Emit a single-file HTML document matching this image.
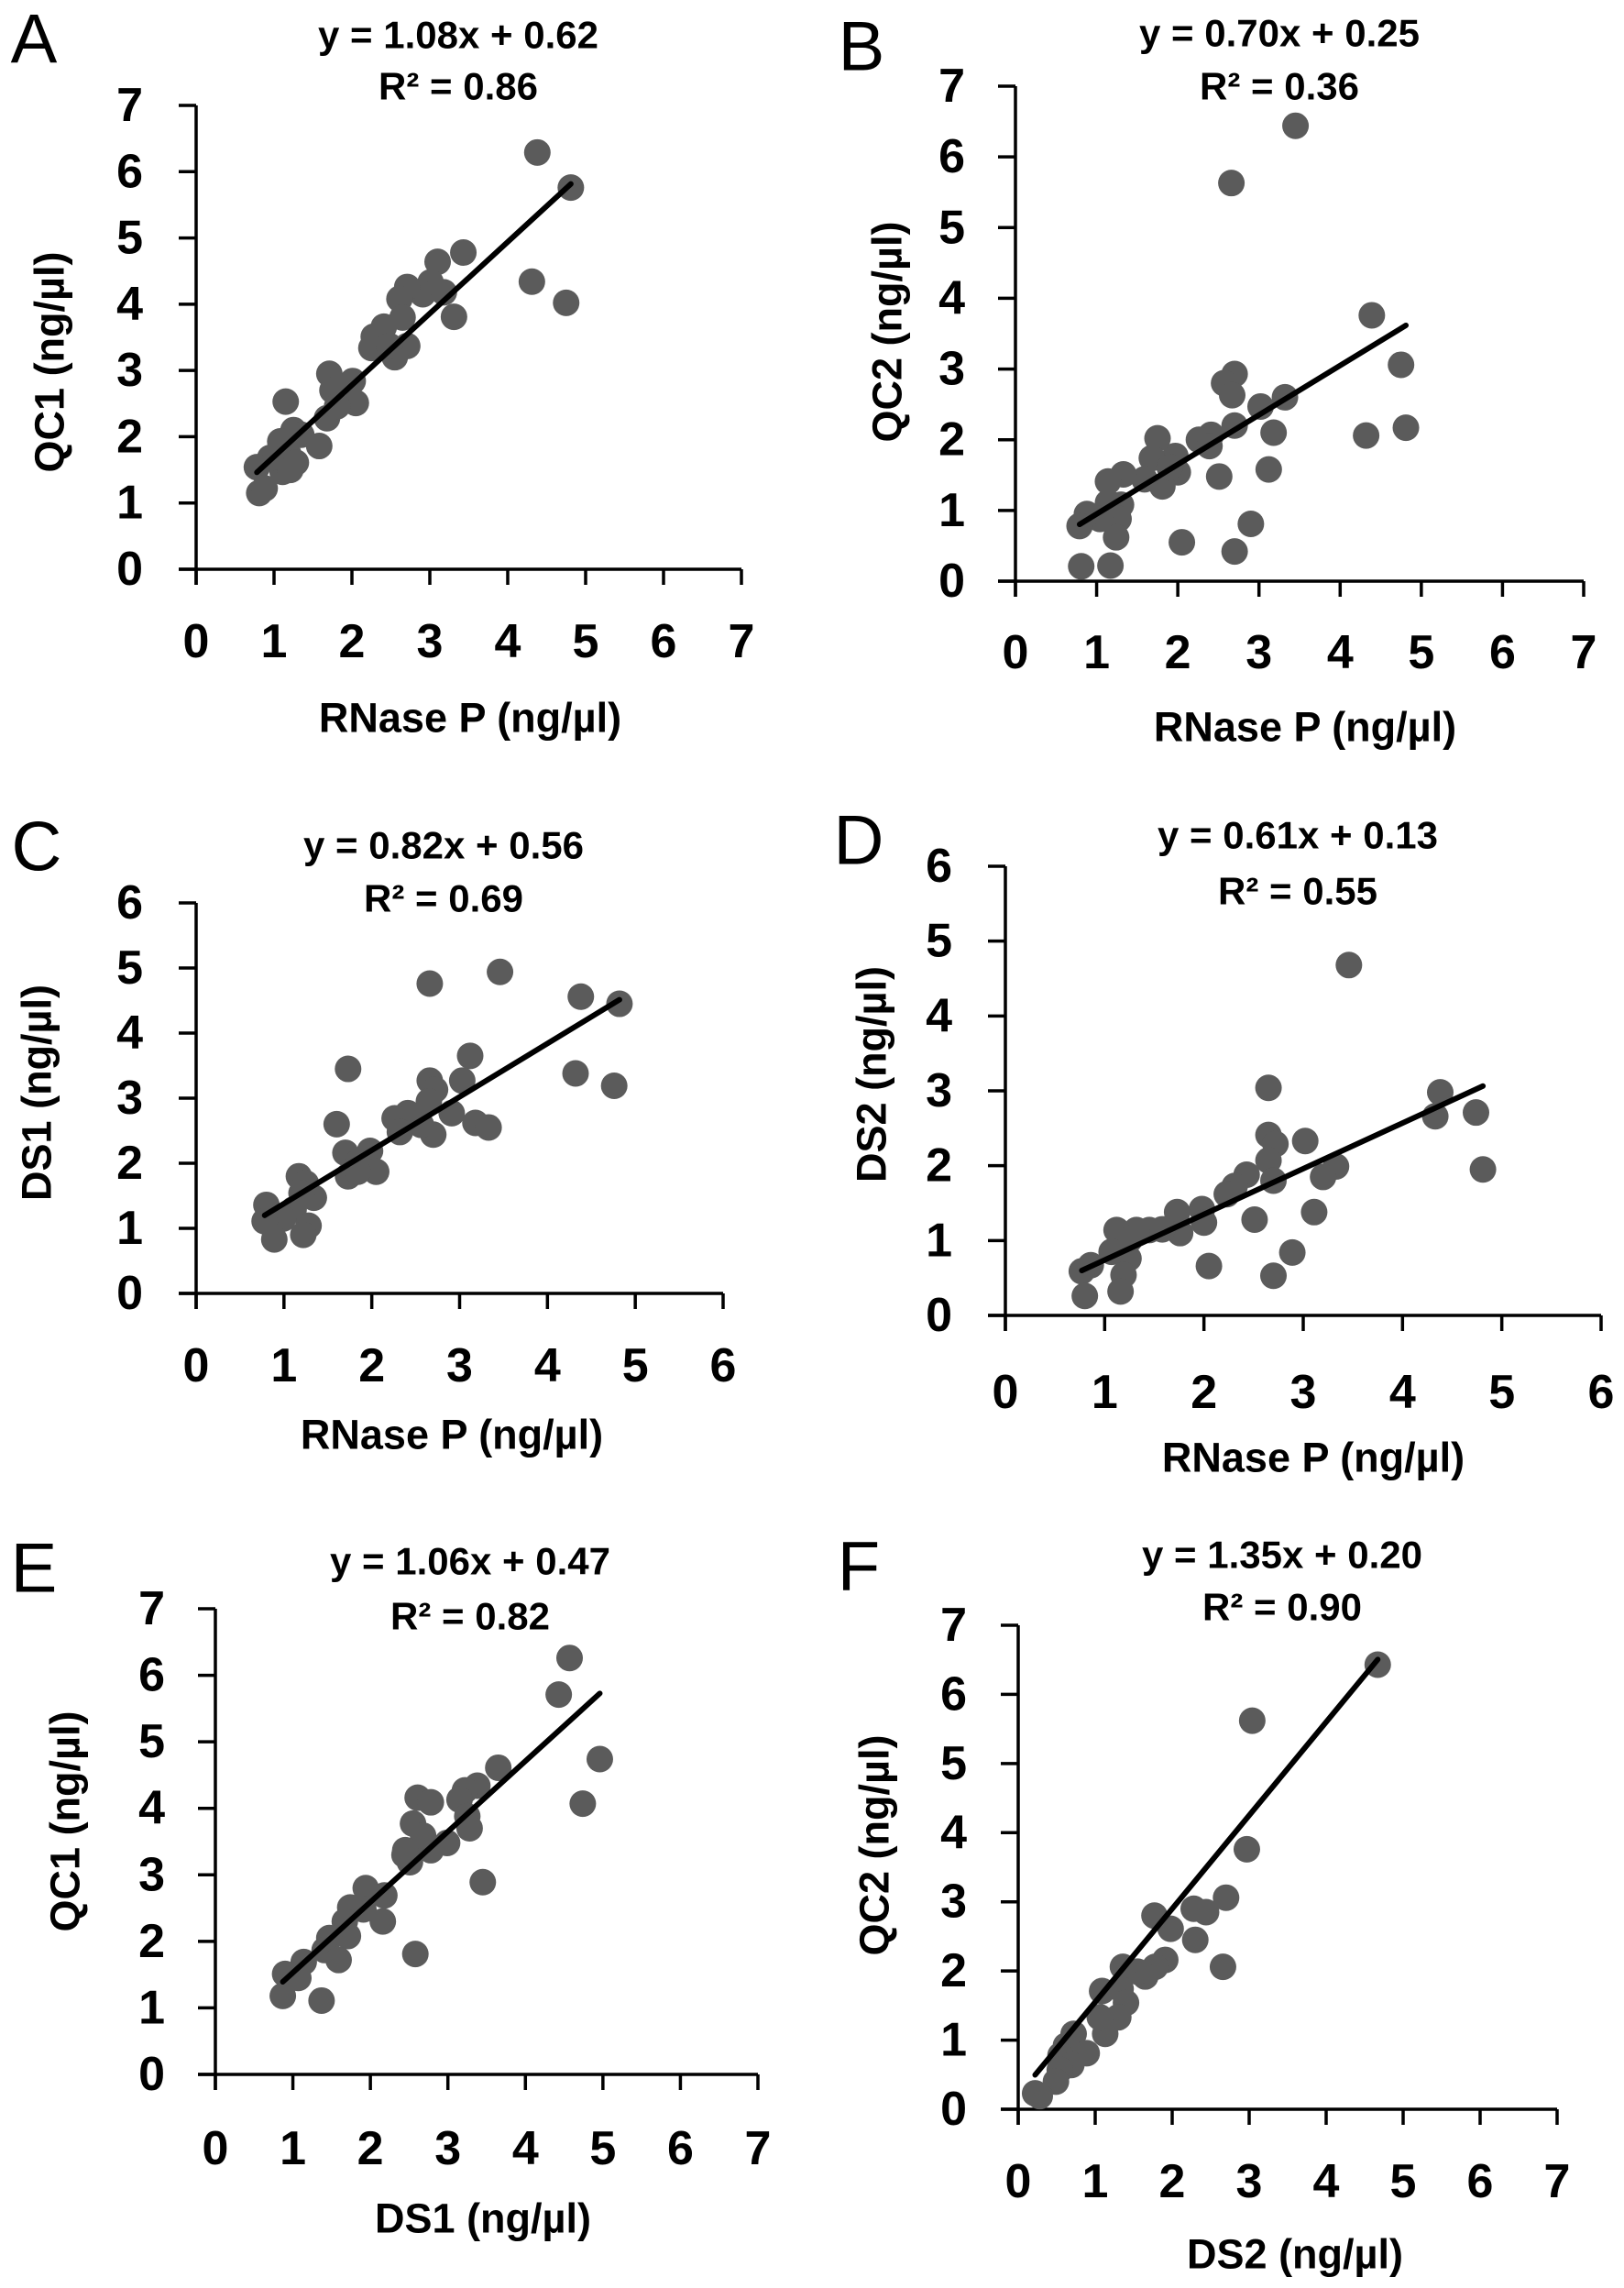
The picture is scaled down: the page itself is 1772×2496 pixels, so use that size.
<!DOCTYPE html>
<html><head><meta charset="utf-8"><style>
html,body{margin:0;padding:0;background:#fff;}
svg{display:block;}
text{font-family:"Liberation Sans",Arial,sans-serif;fill:#000;}
</style></head>
<body>
<svg id="fig" width="1772" height="2496" viewBox="0 0 1772 2496" xmlns="http://www.w3.org/2000/svg"></svg>
<script>
// ---- Panel data ----
const aX=[4.38,4.81,4.31,4.75,3.43,3.1,3.31,3.01,2.91,2.71,2.61,3.18,2.65,2.71,2.55,2.28,2.41,2.25,2.48,2.01,2.05,1.71,1.75,1.68,1.81,1.15,1.25,1.35,1.58,1.08,1.18,1.28,1.11,0.95,0.78,0.81,0.88,1.21];
const aY=[6.29,5.76,4.34,4.02,4.78,4.64,3.81,4.33,4.15,4.26,4.08,4.18,3.8,3.37,3.2,3.51,3.66,3.34,3.37,2.84,2.51,2.95,2.7,2.28,2.46,2.53,2.1,2.03,1.86,1.93,1.75,1.61,1.47,1.68,1.54,1.15,1.22,1.5];
const bX=[3.45,2.66,4.39,4.75,4.81,4.32,3.32,3.02,3.18,3.12,2.9,2.7,2.7,2.57,2.67,2.7,2.51,2.41,2.26,2.39,2.05,1.97,2.0,1.75,1.68,1.81,1.59,1.9,1.33,1.14,1.3,1.14,1.27,1.24,1.04,0.88,0.79,0.81,1.17];
const bY=[6.44,5.63,3.76,3.06,2.17,2.06,2.6,2.47,2.1,1.58,0.81,0.42,2.93,2.8,2.63,2.2,1.48,2.07,2.0,1.91,0.55,1.77,1.54,2.02,1.74,1.34,1.44,1.61,1.51,1.41,1.08,1.11,0.88,0.62,0.88,0.95,0.78,0.21,0.22];
const cX=[3.46,2.66,4.38,4.82,4.32,4.76,3.12,3.03,1.73,1.6,2.66,2.72,2.65,2.91,3.18,3.33,2.7,2.56,2.41,2.26,2.32,1.7,1.98,1.84,2.05,1.73,1.84,1.17,1.25,1.34,1.2,1.11,1.28,1.22,0.99,0.8,0.78,0.89];
const cY=[4.94,4.76,4.56,4.45,3.38,3.19,3.65,3.27,3.45,2.6,3.27,3.13,2.95,2.77,2.62,2.55,2.44,2.59,2.77,2.69,2.48,2.16,2.19,2.01,1.87,1.8,1.87,1.8,1.69,1.47,1.54,1.29,1.04,0.9,1.15,1.36,1.11,0.83];
const dX=[3.46,2.65,4.38,4.33,4.74,4.81,3.02,2.65,2.72,2.65,2.7,3.33,3.2,3.11,2.43,2.31,2.23,2.51,2.89,2.7,2.05,1.98,2.0,1.73,1.76,1.58,1.45,1.32,1.12,1.25,1.24,1.07,1.19,1.16,0.86,0.77,0.8];
const dY=[4.68,3.04,2.98,2.66,2.71,1.95,2.33,2.41,2.29,2.07,1.8,1.99,1.85,1.38,1.88,1.73,1.62,1.28,0.84,0.53,0.66,1.42,1.24,1.38,1.1,1.15,1.14,1.14,1.14,1.01,0.76,0.85,0.54,0.32,0.67,0.59,0.26];
const eX=[4.57,4.43,4.96,4.74,3.65,3.45,2.58,3.38,3.22,3.15,3.25,3.28,2.99,2.78,2.61,2.78,2.55,2.68,2.45,2.51,2.44,2.18,2.16,1.94,1.91,1.74,1.67,1.71,1.47,1.41,1.59,1.37,1.14,1.07,0.9,0.87];
const eY=[6.26,5.71,4.74,4.07,4.61,2.89,1.81,4.34,4.27,4.13,3.88,3.7,3.48,3.37,4.16,4.09,3.77,3.59,3.37,3.19,3.3,2.69,2.3,2.8,2.48,2.51,2.3,2.08,2.05,1.87,1.72,1.11,1.69,1.45,1.51,1.18];
const fX=[4.67,3.04,2.97,2.7,2.28,2.44,2.3,2.66,1.77,1.98,1.91,1.78,1.65,1.55,1.36,1.09,1.33,1.4,1.3,1.13,1.06,0.72,0.89,0.62,0.55,0.69,0.54,0.49,0.28,0.22];
const fY=[6.43,5.62,3.76,3.06,2.9,2.85,2.45,2.06,2.8,2.61,2.16,2.06,1.92,1.99,2.06,1.71,1.74,1.54,1.33,1.09,1.33,1.09,0.81,0.92,0.78,0.64,0.57,0.4,0.19,0.23];
const slopes=[1.08,0.70,0.82,0.61,1.06,1.35];
const intercepts=[0.62,0.25,0.56,0.13,0.47,0.20];
const r2=["0.86","0.36","0.69","0.55","0.82","0.90"];
const xTicks7=[0,1,2,3,4,5,6,7];
const xTicks6=[0,1,2,3,4,5,6];
const yTicks7=[0,1,2,3,4,5,6,7];
const yTicks6=[0,1,2,3,4,5,6];
const panelLetters=["A","B","C","D","E","F"];
const xTitles=["RNase P (ng/µl)","RNase P (ng/µl)","RNase P (ng/µl)","RNase P (ng/µl)","DS1 (ng/µl)","DS2 (ng/µl)"];
const yTitles=["QC1 (ng/µl)","QC2 (ng/µl)","DS1 (ng/µl)","DS2 (ng/µl)","QC1 (ng/µl)","QC2 (ng/µl)"];

// ---- Layout (pixels) ----
const layout=[
 {ox:214,xe:809,oy:621,ye:115,xt:xTicks7,yt:yTicks7,tcx:500,t1:38,t2:94,lx:37,ly:43,xl:700,xtc:513,xty:783,ylr:156,ytx:54,yty:395,xs:aX,ys:aY},
 {ox:1108,xe:1728,oy:634,ye:94,xt:xTicks7,yt:yTicks7,tcx:1396,t1:36,t2:94,lx:940,ly:51,xl:712,xtc:1424,xty:793,ylr:1053,ytx:968,yty:362,xs:bX,ys:bY},
 {ox:214,xe:789,oy:1411,ye:985,xt:xTicks6,yt:yTicks6,tcx:484,t1:922,t2:980,lx:40,ly:924,xl:1490,xtc:493,xty:1565,ylr:156,ytx:40,yty:1192,xs:cX,ys:cY},
 {ox:1097,xe:1747,oy:1435,ye:945,xt:xTicks6,yt:yTicks6,tcx:1416,t1:911,t2:972,lx:937,ly:917,xl:1519,xtc:1433,xty:1590,ylr:1039,ytx:951,yty:1172,xs:dX,ys:dY},
 {ox:235,xe:827,oy:2263,ye:1755,xt:xTicks7,yt:yTicks7,tcx:513,t1:1703,t2:1763,lx:37,ly:1711,xl:2344,xtc:527,xty:2420,ylr:180,ytx:71,yty:1987,xs:eX,ys:eY},
 {ox:1111,xe:1699,oy:2301,ye:1773,xt:xTicks7,yt:yTicks7,tcx:1399,t1:1696,t2:1753,lx:937,ly:1709,xl:2380,xtc:1413,xty:2459,ylr:1055,ytx:954,yty:2013,xs:fX,ys:fY}
];

const NS="http://www.w3.org/2000/svg";
const svg=document.getElementById('fig');
function mk(tag,attrs,parent,txt){const e=document.createElementNS(NS,tag);for(const k in attrs)e.setAttribute(k,attrs[k]);if(txt!==undefined)e.textContent=txt;parent.appendChild(e);return e;}

layout.forEach((L,i)=>{
  const xmax=L.xt[L.xt.length-1], ymax=L.yt[L.yt.length-1];
  const sx=v=>L.ox+(L.xe-L.ox)*v/xmax;
  const sy=v=>L.oy-(L.oy-L.ye)*v/ymax;
  const g=mk('g',{},svg);
  
  

  const letter=mk('text',{x:L.lx,y:L.ly,'font-size':76,'text-anchor':'middle','dominant-baseline':'central'},g,panelLetters[i]);
  
  

  const eq=mk('text',{x:L.tcx,y:L.t1,'font-size':42,'font-weight':'bold','text-anchor':'middle','dominant-baseline':'central'},g,
    'y = '+slopes[i].toFixed(2)+'x + '+intercepts[i].toFixed(2));
  
  
  const rr=mk('text',{x:L.tcx,y:L.t2,'font-size':42,'font-weight':'bold','text-anchor':'middle','dominant-baseline':'central'},g,'R² = '+r2[i]);
  
  

  // axes
  const xa=mk('line',{x1:L.ox-19,y1:L.oy,x2:L.xe,y2:L.oy,stroke:'#000','stroke-width':3.5},g);
  
  
  const ya=mk('line',{x1:L.ox,y1:L.oy+17,x2:L.ox,y2:L.ye,stroke:'#000','stroke-width':3.5},g);
  
  

  L.xt.forEach(t=>{
    const tk=mk('line',{x1:sx(t),y1:L.oy,x2:sx(t),y2:L.oy+17,stroke:'#000','stroke-width':3.5},g);
    
    
    const tl=mk('text',{x:sx(t),y:L.xl,'font-size':52,'font-weight':'bold','text-anchor':'middle','dominant-baseline':'central'},g,String(t));
    
    
  });
  L.yt.forEach(t=>{
    const tk=mk('line',{x1:L.ox-19,y1:sy(t),x2:L.ox,y2:sy(t),stroke:'#000','stroke-width':3.5},g);
    
    
    const tl=mk('text',{x:L.ylr,y:sy(t),'font-size':52,'font-weight':'bold','text-anchor':'end','dominant-baseline':'central'},g,String(t));
    
    
  });

  const xt=mk('text',{x:L.xtc,y:L.xty,'font-size':45,'font-weight':'bold','text-anchor':'middle','dominant-baseline':'central'},g,xTitles[i]);
  
  
  const yt=mk('text',{x:L.ytx,y:L.yty,'font-size':45,'font-weight':'bold','text-anchor':'middle','dominant-baseline':'central',transform:`rotate(-90 ${L.ytx} ${L.yty})`},g,yTitles[i]);
  
  

  // points
  L.xs.forEach((xv,k)=>{
    const c=mk('circle',{cx:sx(xv),cy:sy(L.ys[k]),r:14.5,fill:'#5b5b5b'},g);
    
    
  });

  // trend line
  const x0=Math.min(...L.xs), x1=Math.max(...L.xs);
  const tl=mk('line',{x1:sx(x0),y1:sy(slopes[i]*x0+intercepts[i]),x2:sx(x1),y2:sy(slopes[i]*x1+intercepts[i]),stroke:'#000','stroke-width':6,'stroke-linecap':'round'},g);
  
  
});
</script>
</body></html>
